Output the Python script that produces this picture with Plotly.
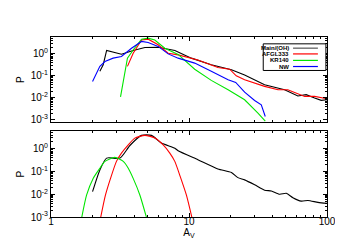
import plotly.graph_objects as go
from plotly.subplots import make_subplots

# ---- data ----
top_main_av = [2.26, 2.39, 2.53, 3.24, 3.94, 4.79, 5.98, 7.9, 10.4, 14.5, 20.3, 25.3, 35.3, 41.7, 49.3, 61.5, 70.7, 81.3, 90.8, 100]
top_main_p = [0.16, 0.32, 1.43, 0.97, 1.43, 1.95, 2.0, 1.43, 0.64, 0.32, 0.19, 0.11, 0.039, 0.031, 0.023, 0.012, 0.0138, 0.0097, 0.0076, 0.0081]

top_afgl_av = [3.58, 3.94, 4.53, 5.06, 5.98, 7.06, 8.34, 11.6, 16.2, 19.7, 22.0, 25.3, 35.3, 44.2, 52.0, 68.9, 81.3, 100]
top_afgl_p = [0.27, 1.07, 4.3, 4.7, 2.6, 1.07, 0.9, 0.53, 0.24, 0.2, 0.1, 0.066, 0.033, 0.023, 0.023, 0.0115, 0.0115, 0.009]

top_kr_av = [3.19, 3.58, 3.94, 4.53, 5.06, 5.65, 6.68, 8.34, 11.0, 14.5, 19.2, 25.3, 31.6, 35.7]
top_kr_p = [0.011, 0.64, 1.5, 4.7, 5.2, 4.3, 1.8, 0.95, 0.2, 0.062, 0.023, 0.0081, 0.002, 0.00085]

top_nw_av = [2.0, 2.26, 2.46, 2.82, 3.24, 3.83, 4.53, 5.06, 5.98, 7.06, 8.34, 11.0, 14.5, 19.2, 21.8, 25.3, 29.9, 33.4, 35.7]
top_nw_p = [0.055, 0.27, 0.45, 0.64, 0.76, 1.8, 3.7, 3.3, 2.2, 1.0, 0.64, 0.38, 0.16, 0.066, 0.05, 0.018, 0.0075, 0.0048, 0.0014]

bot_main_av = [2.0, 2.26, 2.53, 3.16, 3.73, 4.53, 5.35, 6.3, 7.9, 8.34, 11.6, 16.2, 20.3, 22.6, 25.3, 29.9, 35.3, 39.5, 45.4, 50.7, 56.6, 65.0, 72.8, 86.0, 100]
bot_main_p = [0.013, 0.118, 0.39, 0.39, 1.4, 3.9, 3.9, 1.8, 1.07, 0.82, 0.33, 0.13, 0.091, 0.054, 0.043, 0.026, 0.015, 0.014, 0.010, 0.011, 0.0071, 0.005, 0.0053, 0.0044, 0.004]

bot_afgl_av = [2.29, 2.48, 2.70, 2.98, 3.24, 3.63, 4.05, 4.79, 5.71, 6.50, 7.26, 7.89, 8.73, 9.58, 10.5]
bot_afgl_p = [0.00095, 0.0091, 0.05, 0.28, 0.65, 1.5, 2.95, 3.9, 2.95, 1.5, 0.65, 0.28, 0.05, 0.0091, 0.00095]

bot_kr_av = [1.67, 1.81, 2.02, 2.26, 2.46, 2.90, 3.34, 3.63, 3.94, 4.41, 4.92]
bot_kr_p = [0.00095, 0.0091, 0.05, 0.14, 0.28, 0.42, 0.28, 0.14, 0.05, 0.0091, 0.00095]

legend_names = ["Main/(OH)", "AFGL333", "KR140", "NW"]
colors = ["#000000", "#ff0000", "#00e600", "#0000ff"]

x_ticks = [1, 10, 100]
x_ticklabels = ["1", "10", "100"]
y_ticks = [0.001, 0.01, 0.1, 1]
y_ticklabels = ["10<sup>-3</sup>", "10<sup>-2</sup>", "10<sup>-1</sup>", "10<sup>0</sup>"]

FONT = "Liberation Sans"

fig = make_subplots(rows=2, cols=1, shared_xaxes=False, vertical_spacing=0.05)

top = [(top_main_av, top_main_p), (top_afgl_av, top_afgl_p), (top_kr_av, top_kr_p), (top_nw_av, top_nw_p)]
for (xs, ys), c, n in zip(top, colors, legend_names):
    fig.add_trace(go.Scatter(x=xs, y=ys, mode="lines", line=dict(color=c, width=1.1),
                             name=n, showlegend=False), row=1, col=1)

bot = [(bot_main_av, bot_main_p, colors[0]), (bot_afgl_av, bot_afgl_p, colors[1]), (bot_kr_av, bot_kr_p, colors[2])]
for xs, ys, c in bot:
    fig.add_trace(go.Scatter(x=xs, y=ys, mode="lines", line=dict(color=c, width=1.1, shape="spline", smoothing=0.6),
                             showlegend=False), row=2, col=1)

minor_x = [v * d for d in (1, 10) for v in range(2, 10)]
minor_y = [v * d for d in (0.001, 0.01, 0.1, 1) for v in range(2, 10)]

common_axis = dict(showline=True, linecolor="black", linewidth=1, mirror="allticks",
                   ticks="inside", ticklen=4, tickcolor="black", showgrid=False, zeroline=False,
                   tickfont=dict(family=FONT, size=10, color="black"))

for r in (1, 2):
    fig.update_xaxes(type="log", range=[0, 2], tickmode="array", tickvals=x_ticks,
                     ticktext=x_ticklabels, showticklabels=(r == 2),
                     minor=dict(tickmode="array", tickvals=minor_x, ticks="inside", ticklen=2, tickcolor="black"),
                     row=r, col=1, **common_axis)
    fig.update_yaxes(type="log", range=[-3.12, 0.77] if r == 1 else [-3.0, 0.77],
                     tickmode="array", tickvals=y_ticks, ticktext=y_ticklabels,
                     minor=dict(tickmode="array", tickvals=minor_y, ticks="inside", ticklen=2, tickcolor="black"),
                     title=dict(text="P", font=dict(family=FONT, size=10, color="black"), standoff=4),
                     row=r, col=1, **common_axis)

fig.update_xaxes(ticklabelstandoff=-5,
                 title=dict(text="A<sub>V</sub>", font=dict(family=FONT, size=10, color="black"), standoff=0),
                 row=2, col=1)

fig.update_layout(
    width=343, height=245,
    margin=dict(l=43, r=24, t=29, b=36),
    paper_bgcolor="white", plot_bgcolor="white",
    showlegend=False,
)
fig.layout.yaxis.domain = [0.526, 1.0]
fig.layout.yaxis2.domain = [0.0, 0.476]

# custom legend box (text left of line sample, as in the reference)
fig.add_shape(type="rect", xref="paper", yref="paper", x0=0.769, x1=0.996, y0=0.814, y1=0.962,
              line=dict(color="black", width=1), fillcolor="white", layer="above")
entry_y = [0.938, 0.906, 0.870, 0.836]
for n, c, yy in zip(legend_names, colors, entry_y):
    fig.add_annotation(xref="paper", yref="paper", x=0.869, y=yy, text="<b>" + n + "</b>", showarrow=False,
                       xanchor="right", yanchor="middle", font=dict(family=FONT, size=6, color="black"))
    fig.add_shape(type="line", xref="paper", yref="paper", x0=0.877, x1=0.967, y0=yy, y1=yy,
                  line=dict(color=c if c != "#000000" else "#555555", width=1.2), layer="above")

fig.write_html("out.html")
